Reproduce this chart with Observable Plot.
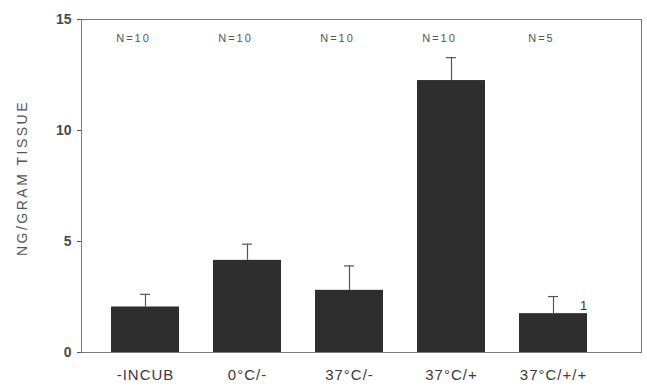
<!DOCTYPE html>
<html>
<head>
<meta charset="utf-8">
<script src="https://cdn.jsdelivr.net/npm/d3@7"></script>
<script src="https://cdn.jsdelivr.net/npm/@observablehq/plot@0.6"></script>
<style>
  html, body { margin: 0; padding: 0; background: #fff; }
  svg text { font-family: "Liberation Sans", Arial, sans-serif; }
  .nlab text { letter-spacing: 2px; }
  .ylab text { letter-spacing: 2.5px; }
  .xlab text { letter-spacing: 1px; }
</style>
</head>
<body>
<div id="chart"></div>
<script>
const categories = ["-INCUB", "0°C/-", "37°C/-", "37°C/+", "37°C/+/+"];
const means = [2.05, 4.15, 2.8, 12.25, 1.75];
const errors = [0.57, 0.73, 1.1, 1.03, 0.77];
const nLabels = ["N=10", "N=10", "N=10", "N=10", "N=5"];
const notes = ["", "", "", "", "1"];
const yTicks = [0, 5, 10, 15];
const yLabel = "NG/GRAM TISSUE";

const data = categories.map((c, i) => ({
  cat: c, mean: means[i], top: means[i] + errors[i], n: nLabels[i], note: notes[i]
}));

const ink = "#2e2e2e";
const textInk = "#3a3a3a";

const chart = Plot.plot({
  width: 647,
  height: 388,
  marginLeft: 81,
  marginRight: 6,
  marginTop: 19,
  marginBottom: 36,
  style: { fontFamily: "Liberation Sans, Arial, sans-serif", background: "#fff", color: textInk },
  x: { domain: categories, range: [111, 588], paddingInner: 0.333, paddingOuter: 0 },
  y: { domain: [0, 15] },
  marks: [
    Plot.frame({ stroke: "#7a7a7a", strokeWidth: 1 }),
    Plot.barY(data, { x: "cat", y: "mean", fill: ink }),
    Plot.ruleX(data, { x: "cat", y1: "mean", y2: "top", stroke: "#555", strokeWidth: 1.2 }),
    Plot.tickY(data, { x: "cat", y: "top", stroke: "#555", strokeWidth: 1.2, insetLeft: 29, insetRight: 29 }),
    Plot.text(data, { x: "cat", text: "n", frameAnchor: "top", dy: 15, dx: -12, fontSize: 11, fill: "#555", className: "nlab" }),
    Plot.text(data, { x: "cat", y: "top", text: "note", dx: 30, dy: 9, fontSize: 13, fill: "#333" }),
    Plot.axisX({ tickSize: 0, tickPadding: 17, fontSize: 15, label: null, fill: textInk, className: "xlab" }),
    Plot.axisY({ ticks: yTicks, tickSize: 4, tickPadding: 6, fontSize: 14, fontWeight: "bold", label: null, fill: "#4a4a4a", stroke: "#555" }),
    Plot.text([yLabel], { text: d => d, frameAnchor: "left", textAnchor: "middle", rotate: -90, dx: -59, dy: -8, fontSize: 14, fill: "#555", className: "ylab" })
  ]
});
document.getElementById("chart").appendChild(chart);
</script>
</body>
</html>
